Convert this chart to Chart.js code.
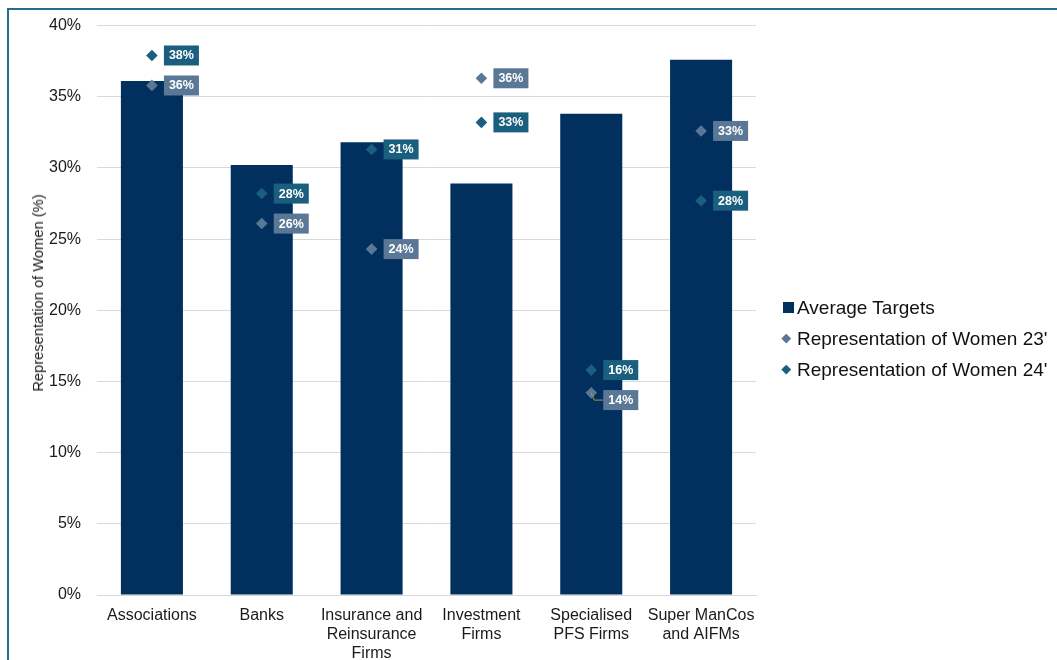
<!DOCTYPE html>
<html>
<head>
<meta charset="utf-8">
<title>Representation of Women</title>
<script src="https://cdn.jsdelivr.net/npm/chart.js@4"></script>
<style>
  html, body { margin: 0; padding: 0; background: #fff; overflow: hidden; }
  #wrap { position: relative; width: 1057px; height: 660px; font-family: 'Liberation Sans', Arial, sans-serif; overflow: hidden; }
  #frame { position: absolute; left: 7px; top: 8px; width: 1200px; height: 800px; border: 2px solid #2a6a8c; box-sizing: border-box; }
  #chart { position: absolute; left: 0; top: 0; }
  #ytitle { position: absolute; left: 38px; top: 293px; transform: translate(-50%, -50%) rotate(-90deg);
            white-space: nowrap; font-size: 14.7px; color: #1a1a1a; }
  #legend { position: absolute; left: 781px; top: 292px; }
  .item { position: relative; height: 31px; line-height: 31px; font-size: 19px; color: #111; padding-left: 16px; white-space: nowrap; }
  .item .mk { position: absolute; top: 50%; }
</style>
</head>
<body>
<div id="wrap">
  <canvas id="chart" width="1057" height="660"></canvas>
  <div id="ytitle">Representation of Women (%)</div>
  <div id="legend"></div>
  <div id="frame"></div>
</div>
<script>
// Sector categories (multi-line labels for the x axis)
const categories = [
  'Associations',
  'Banks',
  ['Insurance and', 'Reinsurance', 'Firms'],
  ['Investment', 'Firms'],
  ['Specialised', 'PFS Firms'],
  ['Super ManCos', 'and AIFMs']
];

// Average target share of women per sector (%)
const averageTargets = [36.1, 30.2, 31.8, 28.9, 33.8, 37.6];

// Actual representation of women (%)
const women23 = [35.8, 26.1, 24.3, 36.3, 14.2, 32.6];
const women24 = [37.9, 28.2, 31.3, 33.2, 15.8, 27.7];

// Y axis tick values (%)
const yTicks = [0, 5, 10, 15, 20, 25, 30, 35, 40];

const NAVY = '#01305f';
const TEAL = '#1b5f7e';
const SLATE = '#5a7896';
const FONT = "'Liberation Sans', Arial, sans-serif";

// Small value tags next to each diamond marker, nudged apart when two collide
const valueTags = {
  id: 'valueTags',
  afterDatasetsDraw(chart) {
    const ctx = chart.ctx;
    const tags = [];
    chart.data.datasets.forEach((ds, di) => {
      if (ds.type !== 'line') return;
      const meta = chart.getDatasetMeta(di);
      meta.data.forEach((pt, i) => {
        tags.push({ i, x: pt.x, y: pt.y, ty: pt.y,
                    text: Math.round(ds.data[i]) + '%', bg: ds.backgroundColor });
      });
    });
    const minGap = 30;
    categories.forEach((_, i) => {
      const group = tags.filter(t => t.i === i).sort((a, b) => a.y - b.y);
      for (let k = 1; k < group.length; k++) {
        if (group[k].ty - group[k - 1].ty < minGap) group[k].ty = group[k - 1].ty + minGap;
      }
    });
    ctx.save();
    ctx.font = 'bold 12.5px ' + FONT;
    tags.forEach(t => {
      const w = ctx.measureText(t.text).width + 10;
      const h = 20;
      const left = t.x + 12;
      if (Math.abs(t.ty - t.y) > 0.5) {
        ctx.strokeStyle = '#b8943c';
        ctx.lineWidth = 1;
        ctx.beginPath();
        ctx.moveTo(t.x, t.y);
        ctx.lineTo(t.x + 3, t.ty);
        ctx.lineTo(left, t.ty);
        ctx.stroke();
      }
      ctx.fillStyle = t.bg;
      ctx.fillRect(left, t.ty - h / 2, w, h);
      ctx.fillStyle = '#ffffff';
      ctx.textAlign = 'center';
      ctx.textBaseline = 'middle';
      ctx.fillText(t.text, left + w / 2, t.ty + 0.5);
    });
    ctx.restore();
  }
};

const chart = new Chart(document.getElementById('chart'), {
  data: {
    labels: categories,
    datasets: [
      {
        type: 'bar',
        label: 'Average Targets',
        data: averageTargets,
        backgroundColor: NAVY,
        barPercentage: 0.565,
        categoryPercentage: 1,
        order: 3
      },
      {
        type: 'line',
        label: "Representation of Women 23'",
        data: women23,
        showLine: false,
        pointStyle: 'rectRot',
        pointRadius: 5.8,
        pointBorderWidth: 0,
        backgroundColor: SLATE,
        borderColor: SLATE,
        order: 2
      },
      {
        type: 'line',
        label: "Representation of Women 24'",
        data: women24,
        showLine: false,
        pointStyle: 'rectRot',
        pointRadius: 5.8,
        pointBorderWidth: 0,
        backgroundColor: TEAL,
        borderColor: TEAL,
        order: 1
      }
    ]
  },
  options: {
    responsive: false,
    animation: false,
    events: [],
    layout: { padding: { left: 0, top: 25, right: 301, bottom: 0 } },
    plugins: {
      legend: { display: false },
      tooltip: { enabled: false }
    },
    scales: {
      x: {
        offset: true,
        grid: { display: false, drawTicks: false },
        border: { display: true, color: '#d9d9d9' },
        ticks: {
          color: '#1a1a1a',
          padding: 11,
          maxRotation: 0,
          autoSkip: false,
          font: { family: FONT, size: 16, lineHeight: 1.2 }
        },
        afterFit(scale) { scale.height = 65; }
      },
      y: {
        min: 0,
        max: 40,
        afterBuildTicks(scale) { scale.ticks = yTicks.map(v => ({ value: v })); },
        grid: { color: '#d9d9d9', drawTicks: false },
        border: { display: false },
        ticks: {
          color: '#1a1a1a',
          padding: 16,
          font: { family: FONT, size: 16 },
          callback: v => v + '%'
        },
        afterFit(scale) { scale.width = 97; }
      }
    }
  },
  plugins: [valueTags]
});

// Legend built from the chart's own datasets
const legend = document.getElementById('legend');
chart.data.datasets.forEach(ds => {
  const row = document.createElement('div');
  row.className = 'item';
  const mk = document.createElement('span');
  mk.className = 'mk';
  if (ds.type === 'bar') {
    Object.assign(mk.style, { left: '2px', width: '11px', height: '11px', marginTop: '-6px', background: ds.backgroundColor });
  } else {
    Object.assign(mk.style, { left: '2px', width: '6.5px', height: '6.5px', marginTop: '-4px',
                              background: ds.backgroundColor, transform: 'rotate(45deg)' });
  }
  row.appendChild(mk);
  row.appendChild(document.createTextNode(ds.label));
  legend.appendChild(row);
});
</script>
</body>
</html>
